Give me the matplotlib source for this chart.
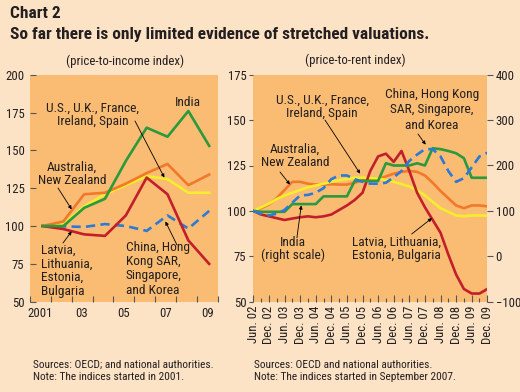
import matplotlib
matplotlib.use("Agg")
import matplotlib.pyplot as plt
import matplotlib.font_manager as fm
from matplotlib.ticker import FixedLocator, NullFormatter

# pick the narrowest sans family that is installed
names = {f.name for f in fm.fontManager.ttflist}
stretchy = {(f.name, str(f.stretch)) for f in fm.fontManager.ttflist}
FONT = 'Roboto'
STRETCH = 'normal'
for cand in ['Liberation Sans Narrow', 'Roboto Condensed', 'Open Sans Condensed',
             'Noto Sans Condensed', 'Arial Narrow']:
    if cand in names:
        FONT = cand
        break
else:
    for fam in ['DejaVu Sans', 'Noto Sans', 'Open Sans']:
        if (fam, 'condensed') in stretchy or (fam, '75') in stretchy:
            FONT, STRETCH = fam, 'condensed'
            break
plt.rcParams['font.family'] = [FONT, 'DejaVu Sans']
plt.rcParams['font.stretch'] = STRETCH

# ---- data: left panel (price-to-income, annual) ----
years = [2001, 2002, 2003, 2004, 2005, 2006, 2007, 2008, 2009]
inc_india = [100, 100, 112, 118, 143, 165, 159, 176, 153]
inc_anz = [100, 103, 121, 122, 128, 135, 141, 127, 134]
inc_us = [100, 101, 113, 121, 127, 133, 131, 122, 122]
inc_baltic = [100, 98, 94.5, 93.5, 107, 132, 121, 90.5, 75]
inc_asia = [100, 99.8, 99.4, 101.3, 100, 96.8, 107, 98.3, 110]
inc_year_labels = ['2001', '', '03', '', '05', '', '07', '', '09']

# ---- data: right panel (price-to-rent, quarterly Jun.02 - Dec.09) ----
quarters = list(range(31))
rent_labels = ['Jun. 02', 'Dec. 02', 'Jun. 03', 'Dec. 03', 'Jun. 04', 'Dec. 04',
               'Jun. 05', 'Dec. 05', 'Jun. 06', 'Dec. 06', 'Jun. 07', 'Dec. 07',
               'Jun. 08', 'Dec. 08', 'Jun. 09', 'Dec. 09']
rent_india = [100, 98, 98, 98, 98, 115, 115, 115, 115, 132, 132, 132, 132, 166, 166, 166,
              166, 205, 200, 200, 200, 205, 200, 238, 236, 232, 227, 216, 173, 173, 173]
rent_anz = [100, 101.5, 103.5, 107, 111.5, 116, 116, 115, 114.5, 114.5, 114.7, 114.5,
            114.5, 115.5, 117, 117, 117.5, 119, 120.5, 121.5, 122, 121.5, 119.5, 115.5,
            111, 107, 103, 101.5, 103, 103, 102.5]
rent_us = [100, 102, 104, 106.5, 108.5, 110, 111.5, 113, 114, 115, 116, 117, 117.5,
           118.3, 118.3, 118, 117.8, 117, 116, 114.8, 113.5, 111.5, 108.5, 105, 101.5,
           99.5, 97.5, 97, 97.5, 97.5, 97.3]
rent_baltic = [100, 98, 97, 96, 95, 95.8, 96.5, 97, 96.5, 97, 98, 100.5, 103, 106, 110,
               122, 130, 131.5, 127, 133, 122, 110, 102, 95, 88, 76, 65, 57, 54.5, 54.5, 57]
rent_asia = [100, 98.5, 97.5, 98.5, 100.5, 104.5, 108.5, 108.8, 110, 112.5, 117.5, 119.5,
             119.5, 117.5, 116, 115, 115, 115.5, 118.5, 122, 127.5, 131, 134, 134, 130,
             122, 116, 118, 124, 130, 132]

BG = '#FDE3C6'
PLOT = '#FABC72'
GREEN = '#2A9A3C'
ORANGE = '#F2782A'
YELLOW = '#F4EE2C'
RED = '#C21F2C'
BLUE = '#2C7AD6'
TXT = '#231F20'
TICK = '#555555'

W, H = 520, 392
fig = plt.figure(figsize=(W / 100, H / 100), dpi=100, facecolor=BG)


def fp(x, y):
    # pixel position measured from top-left -> figure pixels
    return (x, H - y)


def box(x0, y0, x1, y1):
    return [x0 / W, 1 - y1 / H, (x1 - x0) / W, (y1 - y0) / H]


arrow = dict(arrowstyle='-|>', lw=0.6, color='black', mutation_scale=5,
             shrinkA=0, shrinkB=0)
lab = dict(xycoords='figure pixels', va='center', fontsize=9.6, color=TXT)

fig.text(10 / W, 1 - 14 / H, 'Chart 2', fontsize=12.5, fontweight='bold',
         color=TXT, va='center')
fig.text(10 / W, 1 - 34 / H, 'So far there is only limited evidence of stretched valuations.',
         fontsize=12.5, fontweight='bold', color=TXT, va='center')

# ---------------- left panel ----------------
ax1 = fig.add_axes(box(30, 74.7, 217.5, 301.7))
ax1.set_facecolor(PLOT)
for s in ax1.spines.values():
    s.set_visible(False)
xs = [y + 0.6 for y in years]
ax1.plot(xs, inc_asia, color=BLUE, lw=1.9, dashes=(3.5, 2))
ax1.plot(xs, inc_us, color=YELLOW, lw=1.9)
ax1.plot(xs, inc_anz, color=ORANGE, lw=1.9)
ax1.plot(xs, inc_baltic, color=RED, lw=1.9)
ax1.plot(xs, inc_india, color=GREEN, lw=1.9)
ax1.set_xlim(2001, 2010)
ax1.set_ylim(50, 200)
ax1.set_yticks([50, 75, 100, 125, 150, 175, 200])
ax1.xaxis.set_major_locator(FixedLocator(list(range(2001, 2011))))
ax1.xaxis.set_major_formatter(NullFormatter())
ax1.xaxis.set_minor_locator(FixedLocator([y + 0.5 for y in years]))
ax1.set_xticklabels(inc_year_labels, minor=True)
ax1.tick_params(axis='x', which='major', direction='in', length=4, width=0.8, color=TICK)
ax1.tick_params(axis='x', which='minor', length=0, pad=4, labelsize=9.2, labelcolor=TXT)
ax1.tick_params(axis='y', direction='in', length=4, width=0.8, color=TICK,
                pad=4, labelsize=9.2, labelcolor=TXT)

ax1.annotate('India', xy=fp(188, 102), ha='center', **lab)
ax1.annotate('U.S., U.K., France,\nIreland, Spain', xy=fp(93, 115), ha='center',
             linespacing=1.0, **lab)
ax1.annotate('Australia,\nNew Zealand', xy=fp(72, 174), ha='center',
             linespacing=1.0, **lab)
ax1.annotate('Latvia,\nLithuania,\nEstonia,\nBulgaria', xy=fp(41, 271), ha='left',
             linespacing=1.05, **lab)
ax1.annotate('China, Hong\nKong SAR,\nSingapore,\nand Korea', xy=fp(126, 269),
             ha='left', linespacing=1.1, **lab)
ax1.annotate('', xy=(2007.45, 132), xytext=fp(135, 121), textcoords='figure pixels',
             arrowprops=arrow)
ax1.annotate('', xy=(2003.0, 111), xytext=fp(58, 188), textcoords='figure pixels',
             arrowprops=arrow)
ax1.annotate('', xy=(2003.0, 96.5), xytext=fp(63, 243), textcoords='figure pixels',
             arrowprops=arrow)
ax1.annotate('', xy=(2007.5, 103), xytext=fp(177, 245), textcoords='figure pixels',
             arrowprops=arrow)

# ---------------- right panel ----------------
ax2 = fig.add_axes(box(253.3, 74.7, 487.3, 301.7))
ax2.set_facecolor(PLOT)
ax3 = ax2.twinx()        # India, right scale
ax4 = ax2.twinx()        # dashed line drawn above the India line
ax2.yaxis.tick_left()
ax3.yaxis.tick_right()
ax4.axis('off')
for a in (ax2, ax3):
    for s in a.spines.values():
        s.set_visible(False)

ax2.plot(quarters, rent_anz, color=ORANGE, lw=1.9)
ax2.plot(quarters, rent_us, color=YELLOW, lw=1.9)
ax2.plot(quarters, rent_baltic, color=RED, lw=1.9)
ax3.plot(quarters, rent_india, color=GREEN, lw=1.9)
ax4.plot(quarters, rent_asia, color=BLUE, lw=1.9, dashes=(3.5, 2))

ax2.set_xlim(0, 30)
ax2.set_ylim(50, 175)
ax4.set_ylim(50, 175)
ax3.set_ylim(-100, 400)
ax2.set_yticks([50, 75, 100, 125, 150, 175])
ax3.set_yticks([-100, 0, 100, 200, 300, 400])
ax2.xaxis.set_major_locator(FixedLocator(quarters[::2]))
ax2.set_xticklabels(rent_labels)
ax2.xaxis.set_minor_locator(FixedLocator(quarters[1::2]))
ax2.tick_params(axis='x', which='major', direction='in', length=5, width=0.8,
                color=TICK, labelrotation=90, pad=3, labelsize=9.2, labelcolor=TXT)
ax2.tick_params(axis='x', which='minor', direction='in', length=3, width=0.8, color=TICK)
ax2.tick_params(axis='y', direction='out', length=3, width=0.8, color=TICK,
                pad=2, labelsize=9.2, labelcolor=TXT)
ax3.tick_params(axis='y', direction='out', length=4, width=0.8, color=TICK,
                pad=2, labelsize=9.2, labelcolor=TXT)

ax2.annotate('U.S., U.K., France,\nIreland, Spain', xy=fp(322, 107), ha='center',
             linespacing=1.0, **lab)
ax2.annotate('Australia,\nNew Zealand', xy=fp(295, 155.5), ha='center',
             linespacing=1.0, **lab)
ax2.annotate('China, Hong Kong\nSAR, Singapore,\nand Korea', xy=fp(432, 110),
             ha='center', linespacing=1.25, **lab)
ax2.annotate('India\n(right scale)', xy=fp(293, 249), ha='center',
             linespacing=1.0, **lab)
ax2.annotate('Latvia, Lithuania,\nEstonia, Bulgaria', xy=fp(351.7, 249), ha='left',
             linespacing=1.0, **lab)
ax4.annotate('', xy=(13.7, 120.5), xytext=fp(325, 120), textcoords='figure pixels',
             arrowprops=arrow)
ax4.annotate('', xy=(4.7, 114.5), xytext=fp(280, 172), textcoords='figure pixels',
             arrowprops=arrow)
ax4.annotate('', xy=(22.1, 136.5), xytext=fp(418, 134), textcoords='figure pixels',
             arrowprops=arrow)
ax4.annotate('', xy=(6.15, 103), xytext=fp(297, 237), textcoords='figure pixels',
             arrowprops=arrow)
ax4.annotate('', xy=(22.9, 96), xytext=fp(411.7, 234), textcoords='figure pixels',
             arrowprops=arrow)

# subtitles and sources
fig.text(125 / W, 1 - 61 / H, '(price-to-income index)', ha='center', va='center',
         fontsize=9.3, color=TXT)
fig.text(355 / W, 1 - 60 / H, '(price-to-rent index)', ha='center', va='center',
         fontsize=9.3, color=TXT)
fig.text(33 / W, 1 - 365 / H, 'Sources: OECD; and national authorities.', va='center',
         fontsize=8.2, color=TXT)
fig.text(33 / W, 1 - 376.5 / H, 'Note: The indices started in 2001.', va='center',
         fontsize=8.2, color=TXT)
fig.text(254 / W, 1 - 365 / H, 'Sources: OECD and national authorities.', va='center',
         fontsize=8.2, color=TXT)
fig.text(254 / W, 1 - 376.5 / H, 'Note: The indices started in September 2007.',
         va='center', fontsize=8.2, color=TXT)

fig.savefig('out.png', dpi=100, facecolor=BG)
